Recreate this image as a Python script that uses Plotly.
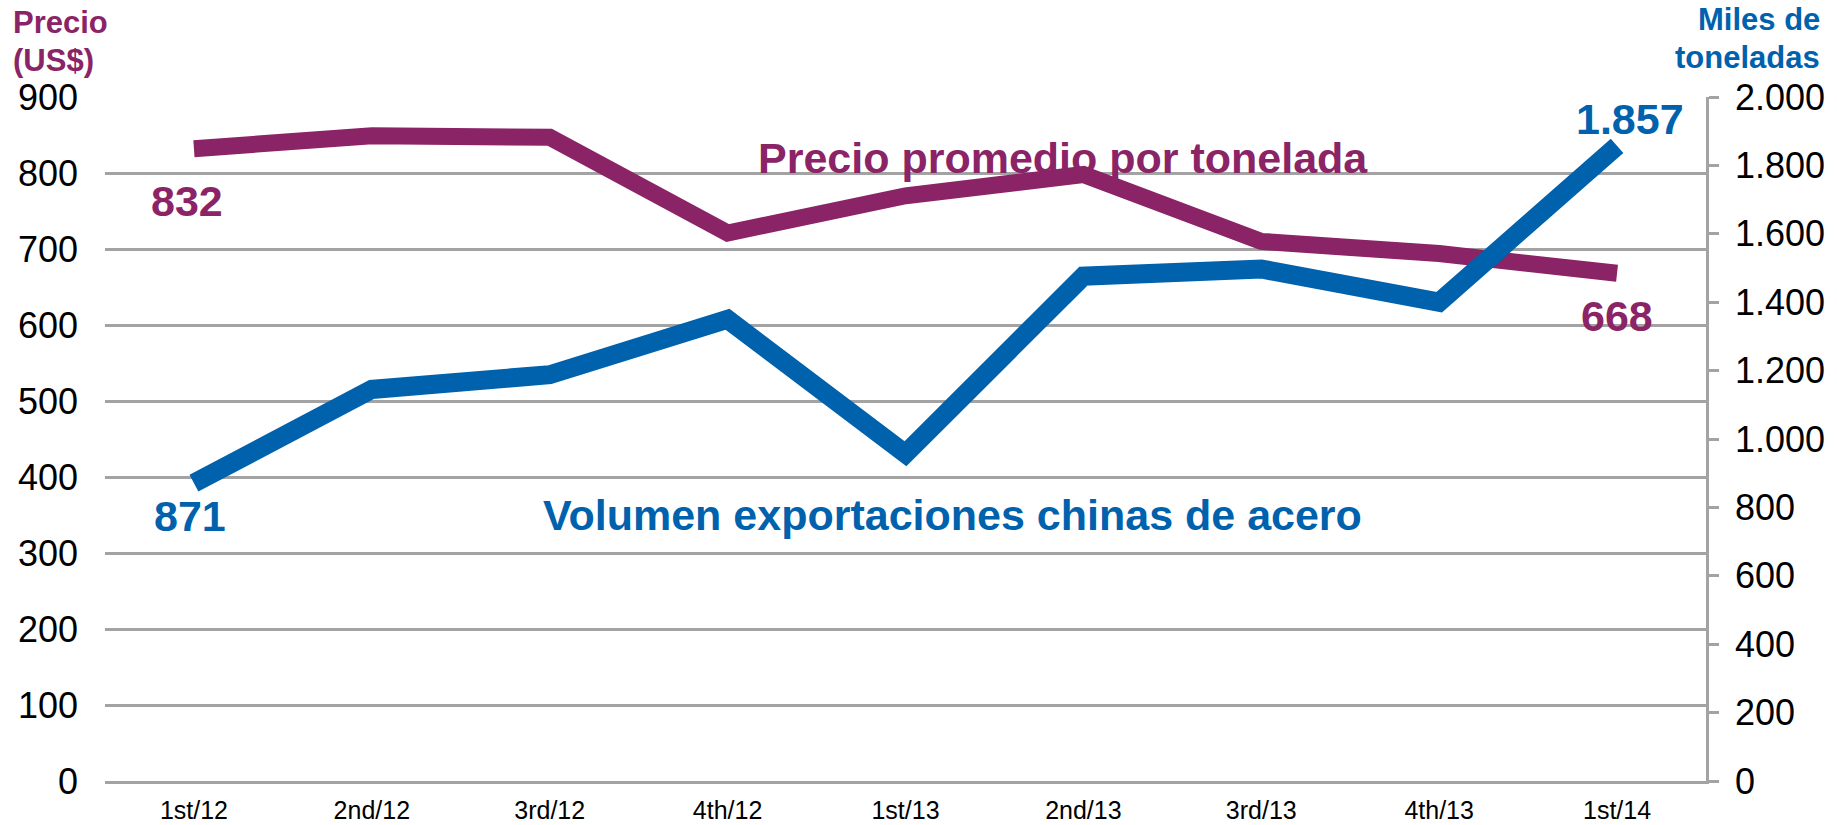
import plotly.graph_objects as go

quarters = ["1st/12", "2nd/12", "3rd/12", "4th/12", "1st/13", "2nd/13", "3rd/13", "4th/13", "1st/14"]
precio = [832, 849, 847, 721, 770, 798, 710, 694, 668]
volumen = [871, 1145, 1188, 1350, 957, 1476, 1497, 1400, 1857]

PURPLE = "#8B2367"
BLUE = "#0061AD"
GRID = "#A3A3A3"
FONT = "Liberation Sans, Arial, sans-serif"

W, H = 1837, 825
L, R, T, B = 105, 131, 97, 44
pw, ph = W - L - R, H - T - B

def px(x):
    return (x - L) / pw

def py(y):
    return (H - B - y) / ph

fig = go.Figure()
fig.add_trace(go.Scatter(x=quarters, y=precio, mode="lines",
                         line=dict(color=PURPLE, width=17), yaxis="y", hoverinfo="skip"))
fig.add_trace(go.Scatter(x=quarters, y=volumen, mode="lines",
                         line=dict(color=BLUE, width=19), yaxis="y2", hoverinfo="skip"))

def fmt(v):
    return f"{v:,}".replace(",", ".")

def bold(size, color):
    return dict(family=FONT, size=size, color=color, weight="bold")

ann = []
# data labels
ann.append(dict(x=quarters[0], y=precio[0], xref="x", yref="y", text=fmt(precio[0]),
                showarrow=False, yshift=-52, xshift=-7, font=bold(43, PURPLE)))
ann.append(dict(x=quarters[-1], y=precio[-1], xref="x", yref="y", text=fmt(precio[-1]),
                showarrow=False, yshift=-43, font=bold(43, PURPLE)))
ann.append(dict(x=quarters[0], y=volumen[0], xref="x", yref="y2", text=fmt(volumen[0]),
                showarrow=False, yshift=-33, xshift=-4, font=bold(43, BLUE)))
ann.append(dict(x=quarters[-1], y=volumen[-1], xref="x", yref="y2", text=fmt(volumen[-1]),
                showarrow=False, yshift=27, xshift=13, font=bold(43, BLUE)))
# series names
ann.append(dict(x=px(1063), y=py(132), xref="paper", yref="paper", text="Precio promedio por tonelada",
                showarrow=False, font=bold(43, PURPLE)))
ann.append(dict(x=px(952), y=py(515), xref="paper", yref="paper", text="Volumen exportaciones chinas de acero",
                showarrow=False, font=bold(43, BLUE)))
# axis titles
for txt, yy in [("Precio", 22), ("(US$)", 60)]:
    ann.append(dict(x=px(11), y=py(yy), xref="paper", yref="paper", text=txt, showarrow=False,
                    xanchor="left", yanchor="middle", font=bold(31, PURPLE)))
for txt, yy in [("Miles de", 20), ("toneladas", 58)]:
    ann.append(dict(x=px(1822), y=py(yy), xref="paper", yref="paper", text=txt, showarrow=False,
                    xanchor="right", yanchor="middle", font=bold(31, BLUE)))

fig.update_layout(
    width=W, height=H,
    margin=dict(l=L, r=R, t=T, b=B, pad=0, autoexpand=False),
    paper_bgcolor="white", plot_bgcolor="white",
    showlegend=False,
    separators=",.",
    font=dict(family=FONT, color="black"),
    annotations=ann,
    xaxis=dict(type="category", range=[-0.5, 8.5], showgrid=False, ticks="", automargin=False,
               showline=True, linecolor=GRID, linewidth=2.5,
               tickfont=dict(family=FONT, size=25, color="black"), ticklabelstandoff=5),
    yaxis=dict(range=[0, 900], dtick=100, showgrid=True, gridcolor=GRID, gridwidth=2.5,
               zeroline=False, showline=False, ticks="", automargin=False,
               tickfont=dict(family=FONT, size=36, color="black"), ticklabelstandoff=26),
    yaxis2=dict(range=[0, 2000], dtick=200, overlaying="y", side="right", showgrid=False,
                zeroline=False, showline=True, linecolor=GRID, linewidth=2.5, automargin=False,
                ticks="outside", ticklen=10, tickcolor=GRID, tickwidth=2.5,
                tickformat=",d",
                tickfont=dict(family=FONT, size=36, color="black"), ticklabelstandoff=9),
)

fig.write_html("out.html", config={"displayModeBar": False},
               post_script="document.body.style.margin='0px';document.body.style.overflow='hidden';")
